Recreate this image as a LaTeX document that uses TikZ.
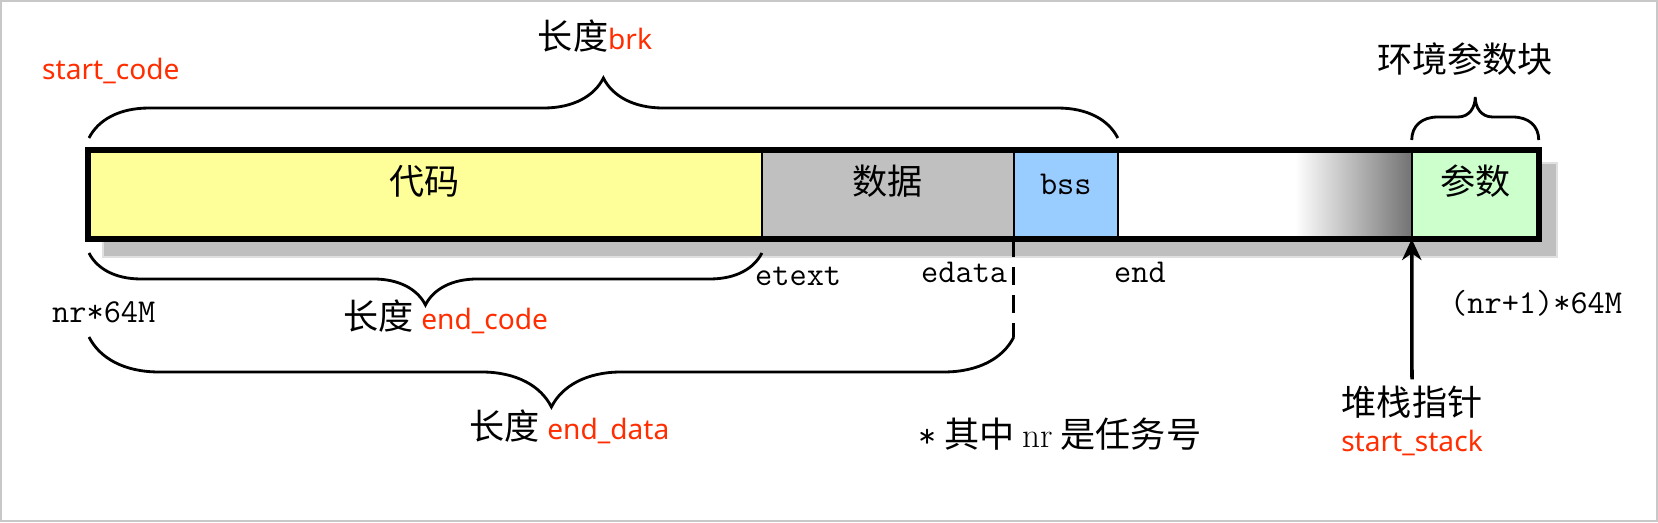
\documentclass[tikz,border=0pt]{standalone}
\usepackage{fontspec}
\newfontfamily\cjk{Noto Sans CJK SC}
\newfontfamily\redsans{Noto Sans}
\usetikzlibrary{positioning,decorations.pathreplacing,arrows.meta,backgrounds}
\definecolor{codeyellow}{HTML}{FFFF99}
\definecolor{datagray}{HTML}{C0C0C0}
\definecolor{bssblue}{HTML}{99CCFF}
\definecolor{argsgreen}{HTML}{CCFFCC}
\definecolor{codered}{HTML}{FF2D00}
\definecolor{framegray}{HTML}{C8C8C8}
\newcommand{\redtxt}[1]{{\redsans\fontsize{16}{20}\selectfont\color{codered}#1}}

\begin{document}
\begin{tikzpicture}[x=0.02cm,y=-0.02cm,
  seg/.style={draw, line width=1.2pt, minimum height=1.78cm, inner sep=0pt, outer sep=0pt, text height=0.4cm, text depth=0.4cm, font=\cjk\fontsize{20}{24}\selectfont},
  cnlabel/.style={font=\cjk\fontsize{20}{24}\selectfont},
  monolabel/.style={font=\ttfamily\fontsize{19}{24}\selectfont},
  brc/.style={decorate, line width=1.6pt, decoration={brace, amplitude=#1}}]
\useasboundingbox (0,0) rectangle (1658,522);
\draw[framegray, line width=1.2pt] (1,1) rectangle (1657,521);

% memory bar
\node[seg, fill=codeyellow, minimum width=13.48cm, anchor=north west] (code) at (88,150) {代码};
\node[seg, fill=datagray, minimum width=5.04cm, right=0pt of code] (data) {数据};
\node[seg, fill=bssblue, minimum width=2.08cm, right=0pt of data, font=\ttfamily\fontsize{19}{24}\selectfont] (bss) {bss};
\node[seg, fill=white, minimum width=5.88cm, right=0pt of bss] (free) {};
\shade[left color=white, right color=black!55] ([shift={(177,0)}]free.north west) rectangle (free.south east);
\node[seg, fill=argsgreen, minimum width=2.54cm, right=0pt of free] (args) {参数};
\draw[line width=3.6pt] (code.north west) rectangle (args.south east);
\begin{scope}[on background layer]
\filldraw[fill=black!25, draw=black!12, line width=1pt] ([shift={(15,13)}]code.north west) rectangle ([shift={(18,18)}]args.south east);
\end{scope}

% braces
\draw[brc=1.2cm] ([shift={(1,-12)}]code.north west) -- ([shift={(0,-12)}]bss.north east);
\draw[brc=1.04cm, decoration={mirror}] ([shift={(1,14)}]code.south west) -- ([shift={(0,14)}]code.south east);
\coordinate (dataend) at ([shift={(0,98)}]data.south east);
\draw[brc=1.4cm, decoration={mirror}] ([shift={(1,98)}]code.south west) -- (dataend);
\draw[line width=1.6pt, dash pattern=on 10pt off 6pt] (data.south east) -- (dataend);
\draw[line width=1.6pt] ([shift={(0,-10)}]args.north west) .. controls +(0,-14) and +(-16,0) .. ++(26,-23) -- ++(20,0)
  .. controls +(12,0) and +(0,10) .. ++(17.5,-20) .. controls +(0,10) and +(-12,0) .. ++(17.5,20) -- ++(20,0)
  .. controls +(16,0) and +(0,-14) .. ++(26,23);

% labels
\node[cnlabel, anchor=base] (brk) at (595,49) {长度\redtxt{brk}};
\node[anchor=base west] (startcode) at (36,79) {\redtxt{start\_code}};
\node[cnlabel, anchor=base] (envblock) at (1465,72) {环境参数块};
\node[monolabel, anchor=base west] (etext) at (749,285) {etext};
\node[monolabel, anchor=base west] (edata) at (915,282) {edata};
\node[monolabel, anchor=base west] (bssend) at (1108,282) {end};
\node[monolabel, anchor=base west] (nrbase) at (46,322) {nr*64M};
\node[cnlabel, anchor=base west] (lencode) at (337,329) {长度 \redtxt{end\_code}};
\node[cnlabel, anchor=base west] (lendata) at (463,439) {长度 \redtxt{end\_data}};
\node[cnlabel, anchor=base west] (note) at (912,447) {{\ttfamily*} 其中 {\rmfamily nr} 是任务号};
\node[monolabel, anchor=base west] (nrtop) at (1444,313) {(nr+1)*64M};
\node[cnlabel, anchor=base] (sp) at (1412,415) {堆栈指针};
\node[below=0pt of sp] (spname) {\redtxt{start\_stack}};
\draw[line width=2pt, -{Stealth[length=12pt,width=11pt]}] (sp.north) -- (args.south west);
\end{tikzpicture}
\end{document}
